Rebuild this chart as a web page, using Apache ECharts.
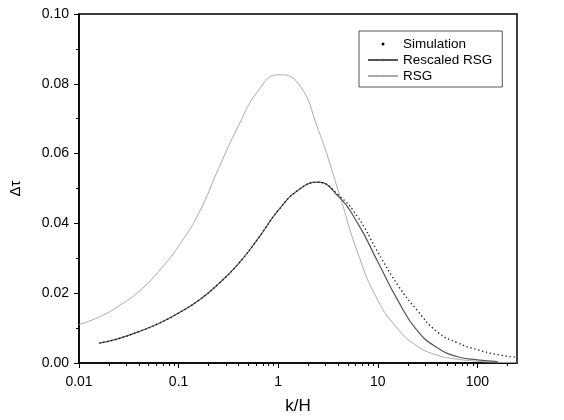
<!DOCTYPE html>
<html lang="en">
<head>
    <meta charset="UTF-8">
    <title>Delta tau vs k/H</title>
    <script type="text/javascript" src="https://cdn.jsdelivr.net/npm/echarts@6/dist/echarts.min.js"></script>
    <style>
        html, body { margin: 0; padding: 0; background: #fff; }
    </style>
</head>
<body>
<div id="main" style="width: 564px;height:420px;"></div>

<script>
    // values
    var majorTicks = [0.01, 0.1, 1, 10, 100];
    var minorTicks = [0.02, 0.03, 0.04, 0.05, 0.06, 0.07, 0.08, 0.09,
        0.2, 0.3, 0.4, 0.5, 0.6, 0.7, 0.8, 0.9,
        2, 3, 4, 5, 6, 7, 8, 9,
        20, 30, 40, 50, 60, 70, 80, 90, 200];

    var kRescaled = [0.016, 0.025, 0.04, 0.063, 0.1, 0.16, 0.25, 0.4, 0.63, 1, 1.6, 2.5, 4, 6.3, 10, 16, 25, 40, 63, 100, 160];
    var rescaled  = [0.0057, 0.0070, 0.0090, 0.0113, 0.0143, 0.0180, 0.0226, 0.0285, 0.0357, 0.0437, 0.0496, 0.0518, 0.0478, 0.0400, 0.0290, 0.0178, 0.0092, 0.0043, 0.0018, 0.0009, 0.0004];

    var kSim = [0.016, 0.025, 0.04, 0.063, 0.1, 0.16, 0.25, 0.4, 0.63, 1, 1.6, 2.5, 4, 6.3, 10, 16, 25, 40, 63, 100, 160, 250];
    var sim  = [0.0057, 0.0070, 0.0090, 0.0113, 0.0143, 0.0180, 0.0226, 0.0285, 0.0357, 0.0437, 0.0496, 0.0518, 0.0482, 0.0418, 0.0318, 0.0222, 0.0150, 0.0088, 0.0058, 0.0038, 0.0024, 0.0016];

    var kRsg = [0.01, 0.016, 0.025, 0.04, 0.063, 0.1, 0.16, 0.25, 0.4, 0.63, 1, 1.6, 2.5, 4, 6.3, 10, 16, 25, 40, 63, 100, 160, 250];
    var rsg  = [0.0110, 0.0132, 0.0163, 0.0205, 0.0262, 0.0335, 0.0430, 0.0555, 0.0680, 0.0780, 0.0826, 0.0800, 0.0672, 0.0495, 0.0315, 0.0180, 0.0097, 0.0048, 0.0022, 0.0011, 0.0005, 0.0002, 0.0001];

    function pairs(xs, ys) {
        return xs.map(function (x, i) { return [x, ys[i]]; });
    }

    var font = 'Arial, "Liberation Sans", sans-serif';

    var myChart = echarts.init(document.getElementById('main'));
    myChart.setOption({
        animation: false,
        backgroundColor: '#fff',
        grid: {
            left: 77, right: 47, top: 14, bottom: 54,
            show: true, borderColor: '#000', borderWidth: 1.5
        },
        legend: {
            orient: 'vertical',
            left: 359, top: 31,
            padding: [6, 10, 4, 8],
            borderColor: '#555', borderWidth: 1,
            itemWidth: 30, itemHeight: 3, itemGap: 2,
            textStyle: { fontFamily: font, fontSize: 13.5, color: '#000', lineHeight: 14 },
            data: [
                { name: 'Simulation', icon: 'circle', itemStyle: { color: '#000' } },
                { name: 'Rescaled RSG' },
                { name: 'RSG' }
            ]
        },
        xAxis: [{
            type: 'log',
            logBase: 10,
            min: 0.01, max: 250,
            position: 'bottom',
            name: 'k/H',
            nameLocation: 'middle',
            nameGap: 35,
            nameTextStyle: { fontFamily: font, fontSize: 17, color: '#000' },
            axisLine: { show: true, lineStyle: { color: '#000', width: 1.5 } },
            axisTick: { show: true, inside: false, length: 5, customValues: majorTicks, lineStyle: { color: '#000' } },
            axisLabel: { customValues: majorTicks, margin: 12, fontFamily: font, fontSize: 14, color: '#000',
                formatter: function (v) { return String(v); } },
            splitLine: { show: false }
        }, {
            type: 'log',
            logBase: 10,
            min: 0.01, max: 250,
            position: 'bottom',
            axisLine: { show: false },
            axisTick: { show: true, inside: false, length: 3, customValues: minorTicks, lineStyle: { color: '#000' } },
            axisLabel: { show: false },
            splitLine: { show: false }
        }],
        yAxis: {
            type: 'value',
            min: 0, max: 0.1, interval: 0.02,
            name: 'Δτ',
            nameLocation: 'middle',
            nameRotate: 90,
            nameGap: 56,
            nameTextStyle: { fontFamily: font, fontSize: 15, color: '#000' },
            axisLine: { show: true, lineStyle: { color: '#000', width: 1.5 } },
            axisTick: { show: true, inside: false, length: 5, lineStyle: { color: '#000' } },
            minorTick: { show: true, splitNumber: 2, length: 3, lineStyle: { color: '#000' } },
            axisLabel: { margin: 10, fontFamily: font, fontSize: 14, color: '#000',
                formatter: function (v) { return v.toFixed(2); } },
            splitLine: { show: false }
        },
        series: [{
            name: 'Simulation',
            type: 'line',
            data: pairs(kSim, sim),
            smooth: 0.5,
            showSymbol: false,
            symbol: 'none',
            z: 3,
            lineStyle: { color: '#111', width: 1.3, type: [1.3, 2.7] },
            itemStyle: { color: '#000' }
        }, {
            name: 'Rescaled RSG',
            type: 'line',
            data: pairs(kRescaled, rescaled),
            smooth: 0.5,
            showSymbol: false,
            symbol: 'none',
            z: 2,
            lineStyle: { color: '#555', width: 1.2 },
            itemStyle: { color: '#555' }
        }, {
            name: 'RSG',
            type: 'line',
            data: pairs(kRsg, rsg),
            smooth: 0.5,
            showSymbol: false,
            symbol: 'none',
            z: 1,
            lineStyle: { color: '#aaa', width: 1 },
            itemStyle: { color: '#aaa' }
        }]
    });
</script>

</body>
</html>
